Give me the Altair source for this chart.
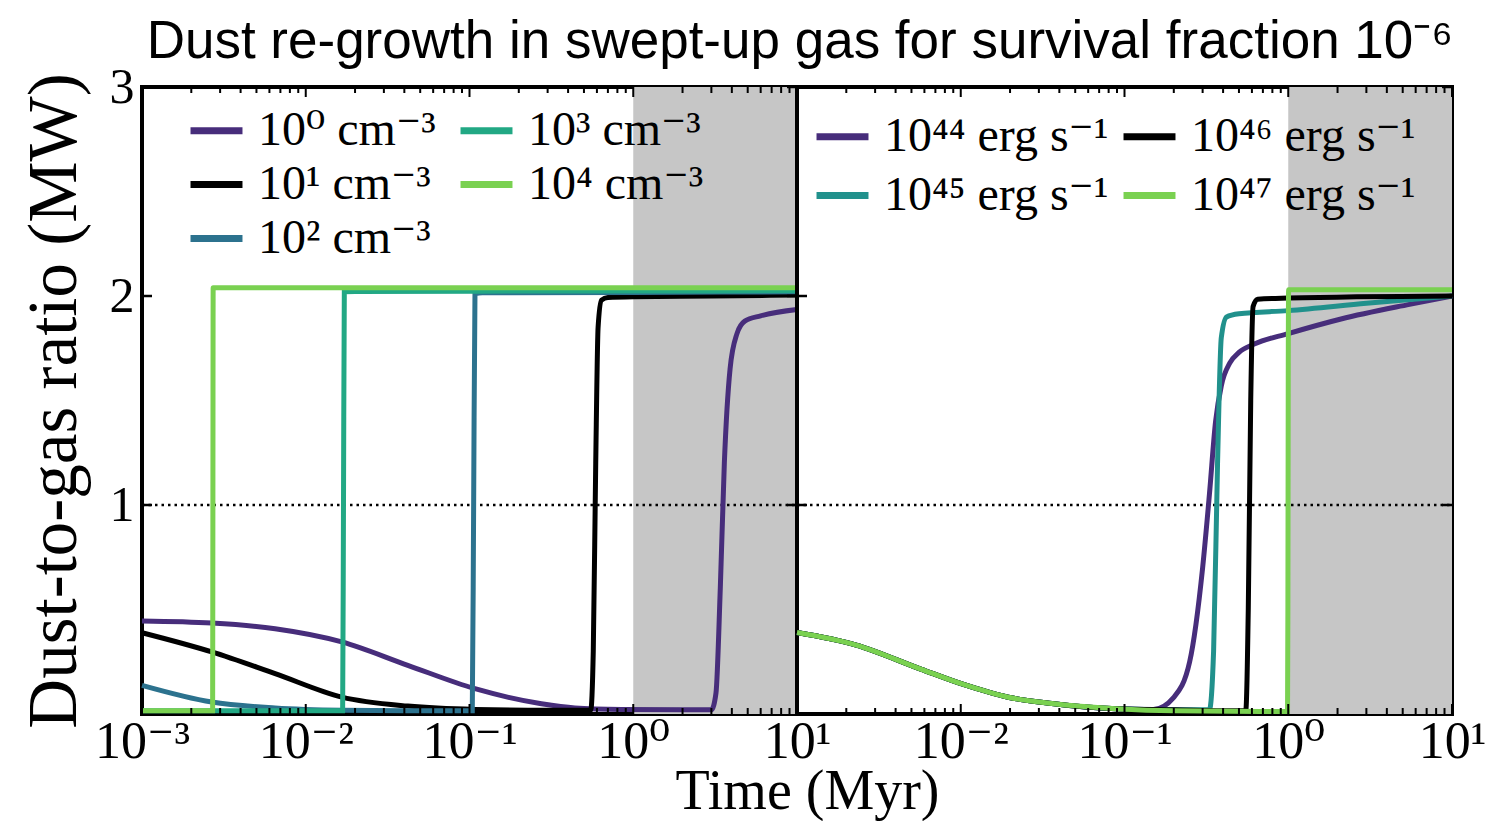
import altair as alt
import pandas as pd

# ---------------------------------------------------------------------------
# Left panel: dust-to-gas ratio (in Milky-Way units) versus time for
# different ambient gas densities.
# ---------------------------------------------------------------------------
N0_T = [0.001, 0.00267, 0.0065, 0.0166, 0.042, 0.108, 0.275, 0.44, 0.85, 2.0, 3.0,
        3.2, 3.4, 3.6, 3.9, 4.3, 4.8, 6.0, 10.0]
N0_Y = [0.445, 0.435, 0.408, 0.345, 0.233, 0.121, 0.049, 0.029, 0.022, 0.02, 0.02,
        0.10, 0.60, 1.20, 1.65, 1.82, 1.88, 1.905, 1.935]

N1_T = [0.001, 0.00267, 0.0065, 0.0166, 0.042, 0.108, 0.3, 0.55, 0.57, 0.59,
        0.61, 0.64, 0.7, 1.0, 3.0, 10.0]
N1_Y = [0.389, 0.297, 0.193, 0.081, 0.038, 0.022, 0.018, 0.018, 0.30, 1.20,
        1.85, 1.98, 1.993, 1.997, 2.0, 2.005]

N2_T = [0.001, 0.00267, 0.0065, 0.0166, 0.05, 0.104, 0.106, 0.108, 0.12, 1.0, 10.0]
N2_Y = [0.137, 0.057, 0.029, 0.018, 0.015, 0.015, 1.0, 2.01, 2.015, 2.017, 2.02]

N3_T = [0.001, 0.0168, 0.0170, 0.0172, 0.02, 1.0, 10.0]
N3_Y = [0.015, 0.015, 1.0, 2.02, 2.022, 2.024, 2.025]

N4_T = [0.001, 0.0027, 0.00271, 0.00272, 0.003, 10.0]
N4_Y = [0.015, 0.015, 1.0, 2.04, 2.04, 2.04]

DENSITY_LABELS = ["10⁰ cm⁻³", "10¹ cm⁻³", "10² cm⁻³", "10³ cm⁻³", "10⁴ cm⁻³"]
DENSITY_COLORS = ["#472d7b", "#000000", "#2c728e", "#22a884", "#7ad151"]

# ---------------------------------------------------------------------------
# Right panel: same quantity for different AGN luminosities.
# ---------------------------------------------------------------------------
EARLY_T = [0.001, 0.0023, 0.0057, 0.0105, 0.0195, 0.036, 0.089]
EARLY_Y = [0.39, 0.33, 0.215, 0.14, 0.08, 0.05, 0.025]

L44_T = [0.15, 0.2, 0.25, 0.3, 0.33, 0.36, 0.39, 0.44, 0.5, 0.62, 1.0, 2.1, 5.5, 10.0]
L44_Y = [0.022, 0.08, 0.25, 0.70, 1.05, 1.40, 1.57, 1.68, 1.73, 1.77, 1.82, 1.89, 1.96, 2.0]

L45_T = [0.2, 0.33, 0.35, 0.37, 0.39, 0.42, 0.5, 1.0, 3.0, 10.0]
L45_Y = [0.02, 0.02, 0.30, 1.20, 1.80, 1.90, 1.915, 1.93, 1.965, 2.0]

L46_T = [0.2, 0.55, 0.57, 0.59, 0.61, 0.65, 1.0, 10.0]
L46_Y = [0.02, 0.015, 0.50, 1.50, 1.95, 1.985, 1.99, 2.0]

L47_T = [0.2, 0.99, 0.995, 1.0, 1.005, 10.0]
L47_Y = [0.015, 0.012, 0.50, 1.60, 2.03, 2.03]

LUMINOSITY_LABELS = ["10⁴⁴ erg s⁻¹", "10⁴⁵ erg s⁻¹", "10⁴⁶ erg s⁻¹", "10⁴⁷ erg s⁻¹"]
LUMINOSITY_COLORS = ["#472d7b", "#21918c", "#000000", "#7ad151"]

# Shaded late-time interval (Myr)
SHADE_T = [1.0, 10.0]
SHADE_Y = [0.0, 3.0]

# Axis ticks
X_MAJOR = [0.001, 0.01, 0.1, 1.0, 10.0]
X_MAJOR_LABELS = ["10⁻³", "10⁻²", "10⁻¹", "10⁰", "10¹"]
X_MINOR = [m * d for d in [0.001, 0.01, 0.1, 1.0] for m in range(2, 10)]
Y_MAJOR = [1, 2, 3]
Y_MAJOR_LABELS = ["1", "2", "3"]

W, H = 655, 627
SERIF = "'Liberation Serif', 'DejaVu Serif', serif"
SANS = "Liberation Sans"


def label_expr(values, labels):
    expr = "''"
    for v, lab in reversed(list(zip(values, labels))):
        expr = f"abs(log(datum.value) - log({v})) < 0.01 ? '{lab}' : ({expr})"
    return expr


def panel(series, x_values, x_labels, left, legend_x, legend_y, col_pad, row_pad):
    xscale = alt.Scale(type="log", domain=[0.001, 10], nice=False)
    yscale = alt.Scale(domain=[0, 3], nice=False)

    axis_common = dict(
        values=x_values, labelExpr=label_expr(x_values, x_labels),
        ticks=False, domain=False, grid=False, labelOverlap=False, labelFlush=False,
        labelFont=SERIF, labelFontSize=52, labelColor="black", labelPadding=2,
    )
    if left:
        x_axis = alt.Axis(
            **axis_common,
            titleFont=SERIF, titleFontSize=56, titleFontWeight="normal", titleColor="black",
            titleX=W + 10, titleY=94, titleAlign="center", titleBaseline="alphabetic",
        )
        y_axis = alt.Axis(
            values=Y_MAJOR, labelExpr=label_expr(Y_MAJOR, Y_MAJOR_LABELS),
            ticks=False, domain=False, grid=False, labelOverlap=False,
            labelFont=SERIF, labelFontSize=50, labelColor="black", labelPadding=8,
            titleFont=SERIF, titleFontSize=69,
            titleFontWeight="normal", titleColor="black", titlePadding=20,
        )
        X = alt.X("t:Q", scale=xscale, axis=x_axis, title="Time (Myr)")
        Y = alt.Y("y:Q", scale=yscale, axis=y_axis, title="Dust-to-gas ratio (MW)")
    else:
        x_axis = alt.Axis(**axis_common)
        X = alt.X("t:Q", scale=xscale, axis=x_axis, title=None)
        Y = alt.Y("y:Q", scale=yscale, axis=None)

    shade = alt.Chart(pd.DataFrame({"t": [SHADE_T[0]], "t2": [SHADE_T[1]],
                                    "y": [SHADE_Y[0]], "y2": [SHADE_Y[1]]})).mark_rect(
        color="#c6c6c6").encode(x=X, x2="t2:Q", y=Y, y2="y2:Q")

    unity = alt.Chart(pd.DataFrame({"y": [1.0]})).mark_rule(
        color="black", strokeWidth=2.5, strokeDash=[2.5, 4]).encode(
        y=Y, x=alt.value(0), x2=alt.value(W))

    layers = [shade, unity]
    names = [s[0] for s in series]
    color = alt.Color(
        "series:N",
        scale=alt.Scale(domain=names, range=[s[3] for s in series]),
        legend=alt.Legend(
            title=None, orient="none", legendX=legend_x, legendY=legend_y, columns=2,
            symbolType="stroke", symbolSize=2700, symbolStrokeWidth=7,
            labelFont=SERIF, labelFontSize=48, labelColor="black", labelLimit=500,
            labelOffset=12, columnPadding=col_pad, rowPadding=row_pad, padding=0,
        ),
    )
    for name, ts, ys, _ in series:
        df = pd.DataFrame({"t": ts, "y": ys, "series": name})
        layers.append(
            alt.Chart(df).mark_line(strokeWidth=5, interpolate="monotone").encode(
                x=X, y=Y, color=color)
        )

    tick_color = "black"
    bottom_major = alt.Chart(pd.DataFrame({"t": X_MAJOR})).mark_rule(
        color=tick_color, strokeWidth=2).encode(x=X, y=alt.value(H), y2=alt.value(H - 10))
    bottom_minor = alt.Chart(pd.DataFrame({"t": X_MINOR})).mark_rule(
        color=tick_color, strokeWidth=2).encode(x=X, y=alt.value(H), y2=alt.value(H - 6))
    top_major = alt.Chart(pd.DataFrame({"t": X_MAJOR})).mark_rule(
        color=tick_color, strokeWidth=2).encode(x=X, y=alt.value(0), y2=alt.value(10))
    top_minor = alt.Chart(pd.DataFrame({"t": X_MINOR})).mark_rule(
        color=tick_color, strokeWidth=2).encode(x=X, y=alt.value(0), y2=alt.value(6))
    left_ticks = alt.Chart(pd.DataFrame({"y": Y_MAJOR})).mark_rule(
        color=tick_color, strokeWidth=2.5).encode(y=Y, x=alt.value(0), x2=alt.value(10))
    right_ticks = alt.Chart(pd.DataFrame({"y": Y_MAJOR})).mark_rule(
        color=tick_color, strokeWidth=2.5).encode(y=Y, x=alt.value(W - 10), x2=alt.value(W))
    layers += [bottom_major, bottom_minor, top_major, top_minor, left_ticks, right_ticks]

    return alt.layer(*layers).properties(width=W, height=H)


left_series = [
    (DENSITY_LABELS[i], t, y, DENSITY_COLORS[i])
    for i, (t, y) in enumerate([(N0_T, N0_Y), (N1_T, N1_Y), (N2_T, N2_Y),
                                (N3_T, N3_Y), (N4_T, N4_Y)])
]
right_series = [
    (LUMINOSITY_LABELS[i], EARLY_T + t, EARLY_Y + y, LUMINOSITY_COLORS[i])
    for i, (t, y) in enumerate([(L44_T, L44_Y), (L45_T, L45_Y),
                                (L46_T, L46_Y), (L47_T, L47_Y)])
]

left = panel(left_series, X_MAJOR, X_MAJOR_LABELS, True, 45, 14, 10, -9)
right = panel(right_series, X_MAJOR[1:], X_MAJOR_LABELS[1:], False, 16, 20, 0, 5)

chart = alt.hconcat(left, right, spacing=0, bounds="flush").resolve_scale(
    color="independent"
).properties(
    title=alt.TitleParams(
        "Dust re-growth in swept-up gas for survival fraction 10⁻⁶",
        font=SANS, fontSize=53, fontWeight="normal", color="black",
        anchor="middle", offset=-9, dx=47,
    ),
    padding={"left": 17, "top": 16, "right": 2, "bottom": 0},
).configure_view(
    stroke="black", strokeWidth=4
).configure_axis(grid=False)

chart.save("out.html", embed_options={"renderer": "svg", "actions": False})
